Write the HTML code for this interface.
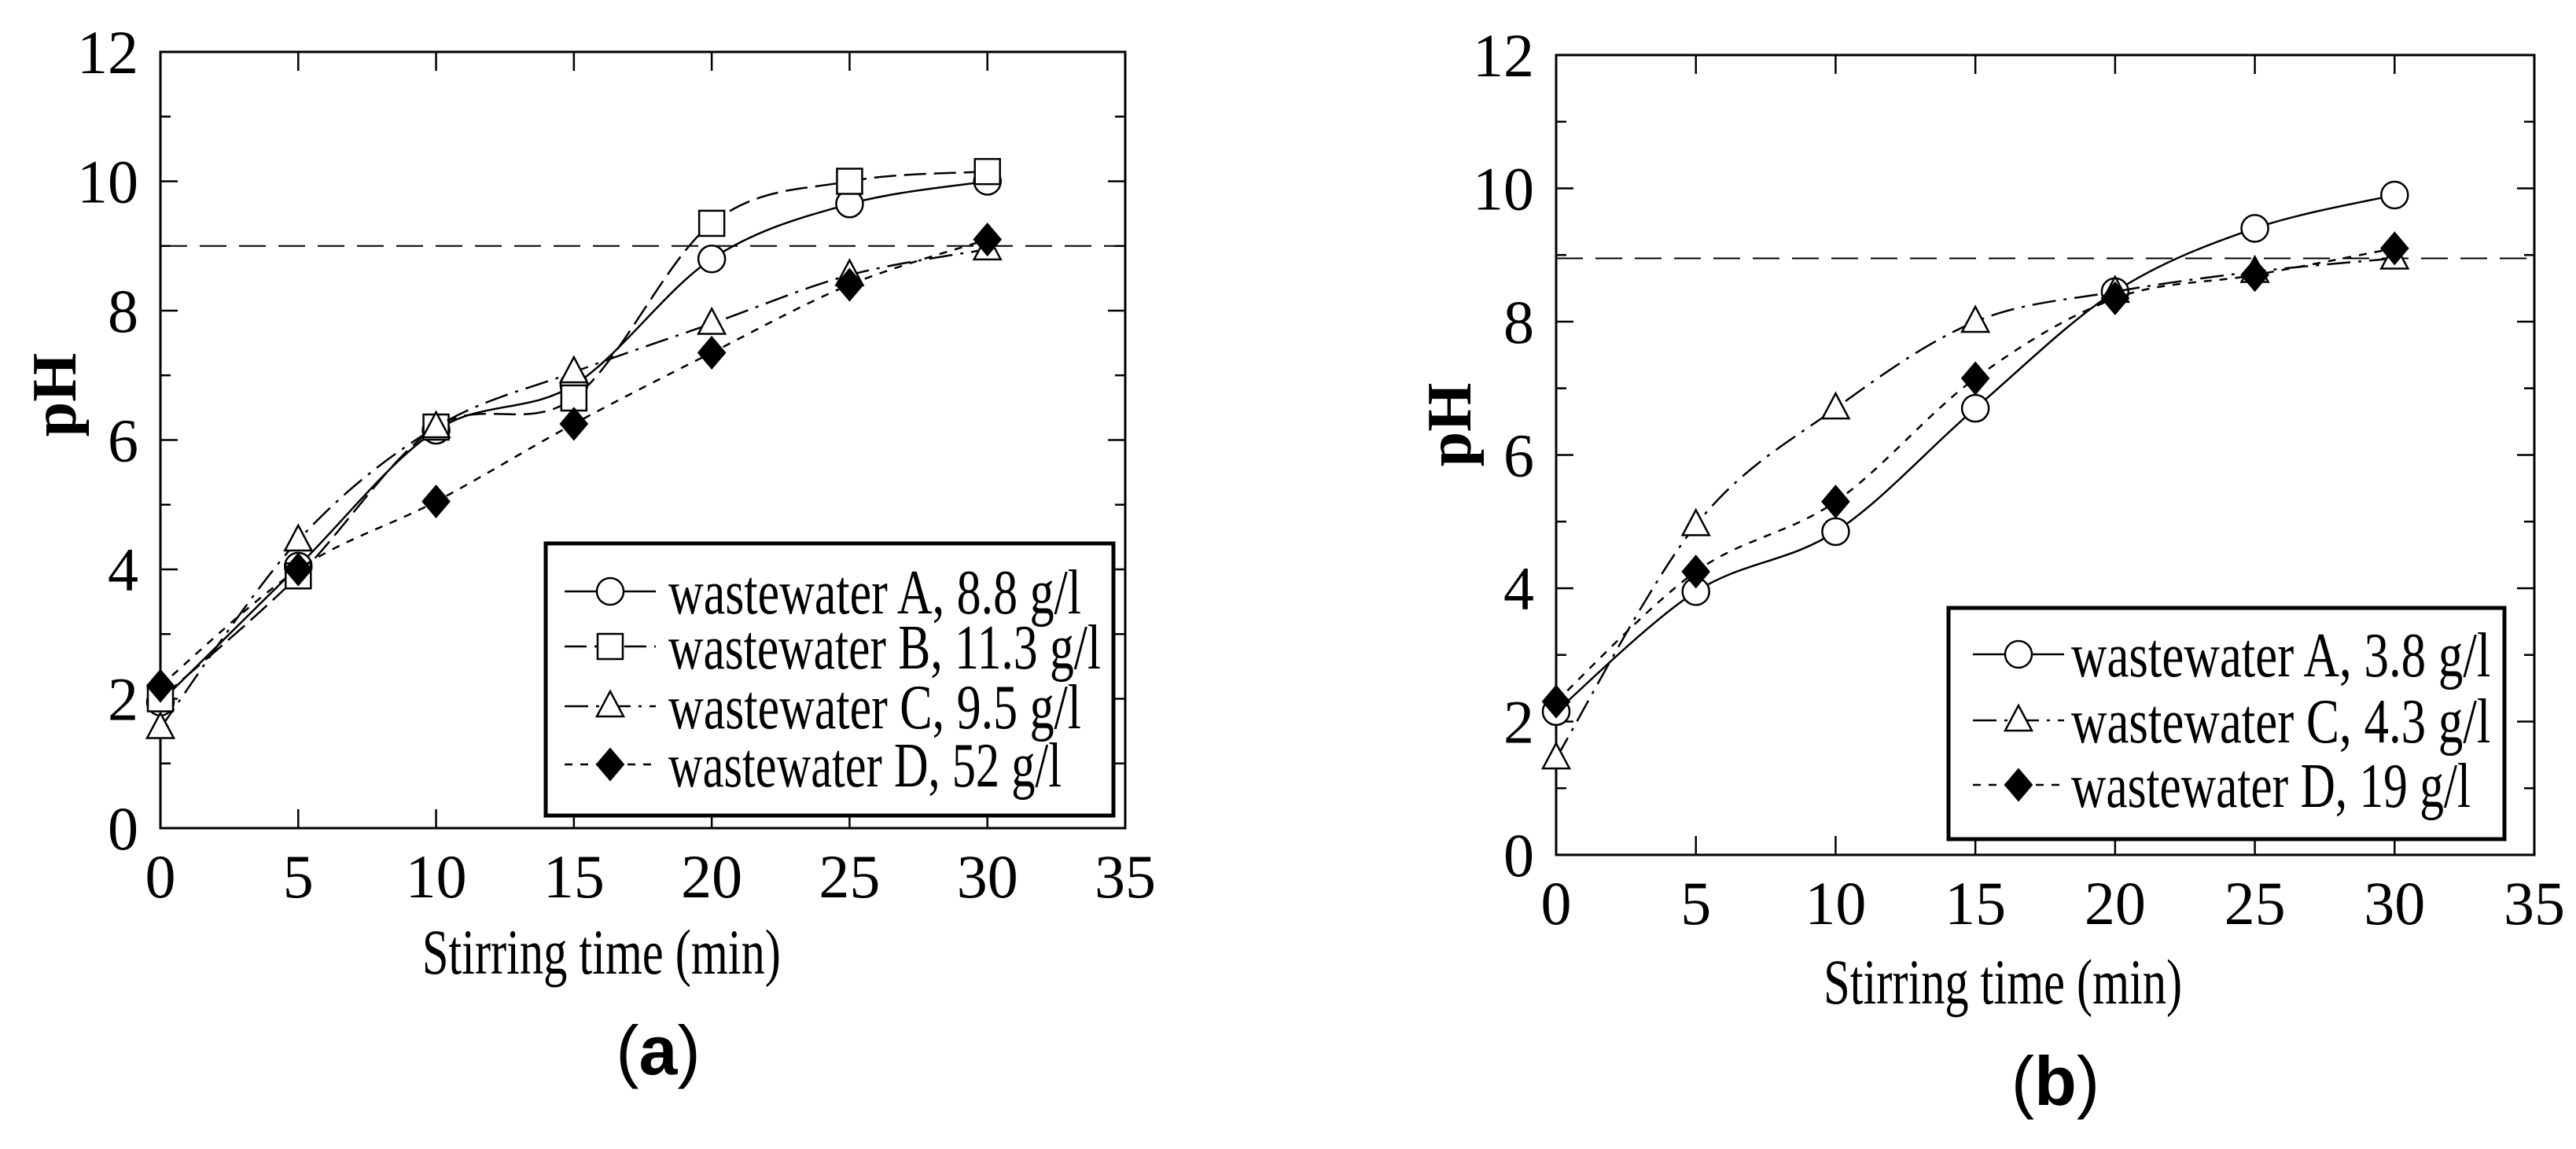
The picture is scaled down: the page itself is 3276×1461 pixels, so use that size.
<!DOCTYPE html>
<html><head><meta charset="utf-8"><style>
body{margin:0;background:#fff}
svg text{font-family:"Liberation Serif",serif;fill:#000}
</style></head><body>
<svg id="fig" width="3276" height="1456" viewBox="0 0 3276 1456" xmlns="http://www.w3.org/2000/svg"></svg>
<script>
const xTicks=[0,5,10,15,20,25,30,35];
const yTicks=[0,2,4,6,8,10,12];
const timesMin=[0,5,10,15,20,25,30];
const aSeriesA=[1.95,4.05,6.15,6.85,8.8,9.65,10.0];
const aSeriesB=[2.0,3.9,6.2,6.65,9.35,10.0,10.15];
const aSeriesC=[1.55,4.45,6.2,7.05,7.8,8.55,8.95];
const aSeriesD=[2.2,4.0,5.05,6.25,7.35,8.4,9.1];
const bSeriesA=[2.15,3.95,4.85,6.7,8.45,9.4,9.9];
const bSeriesC=[1.45,4.95,6.7,8.0,8.45,8.75,8.95];
const bSeriesD=[2.3,4.25,5.3,7.15,8.35,8.7,9.1];
const aLabels=["wastewater A, 8.8 g/l","wastewater B, 11.3 g/l","wastewater C, 9.5 g/l","wastewater D, 52 g/l"];
const bLabels=["wastewater A, 3.8 g/l","wastewater C, 4.3 g/l","wastewater D, 19 g/l"];
const threshA=9.0, threshB=8.95;

const NS="http://www.w3.org/2000/svg";
const svg=document.getElementById('fig');
function mk(tag,attrs,parent){const e=document.createElementNS(NS,tag);for(const k in attrs)e.setAttribute(k,attrs[k]);(parent||svg).appendChild(e);return e;}
const dashes={circle:"",square:"28,10",triangle:"30,10,4,10",diamond:"10,10"};

function smoothPath(pts){
  let d="M"+pts[0][0]+","+pts[0][1];
  for(let i=0;i<pts.length-1;i++){
    const p0=pts[Math.max(0,i-1)],p1=pts[i],p2=pts[i+1],p3=pts[Math.min(pts.length-1,i+2)];
    const c1=[p1[0]+(p2[0]-p0[0])/6,p1[1]+(p2[1]-p0[1])/6];
    const c2=[p2[0]-(p3[0]-p1[0])/6,p2[1]-(p3[1]-p1[1])/6];
    d+=" C"+c1[0]+","+c1[1]+" "+c2[0]+","+c2[1]+" "+p2[0]+","+p2[1];
  }
  return d;
}
function marker(g,type,cx,cy){
  let e;
  if(type==="circle")e=mk('circle',{cx:cx,cy:cy,r:17,fill:'#fff',stroke:'#000','stroke-width':2.5},g);
  else if(type==="square")e=mk('rect',{x:cx-16,y:cy-16,width:32,height:32,fill:'#fff',stroke:'#000','stroke-width':2.5},g);
  else if(type==="triangle")e=mk('polygon',{points:`${cx},${cy-19} ${cx-17},${cy+13} ${cx+17},${cy+13}`,fill:'#fff',stroke:'#000','stroke-width':2.5},g);
  else e=mk('polygon',{points:`${cx},${cy-20} ${cx+17},${cy} ${cx},${cy+20} ${cx-17},${cy}`,fill:'#000',stroke:'#000','stroke-width':2},g);
  return e;
}

function panel(cfg){
  const {L,R,T,B}=cfg;
  const sx=v=>L+(v-0)/35*(R-L);
  const sy=v=>B-(v-0)/12*(B-T);
  const g=mk('g',{});
  
  
  const frame=mk('rect',{x:L,y:T,width:R-L,height:B-T,fill:'none',stroke:'#000','stroke-width':3},g);
  
  
  for(let v=0;v<=12;v++){
    const y=sy(v),len=(v%2===0)?22:13;
    mk('line',{x1:L,y1:y,x2:L+len,y2:y,stroke:'#000','stroke-width':2.5},g);
    mk('line',{x1:R,y1:y,x2:R-len,y2:y,stroke:'#000','stroke-width':2.5},g);
  }
  yTicks.forEach(v=>{
    const t=mk('text',{x:L-28,y:sy(v)+27,'font-size':78,'text-anchor':'end'},g);
    t.textContent=v;
    
    
  });
  xTicks.forEach(v=>{
    const x=sx(v);
    mk('line',{x1:x,y1:B,x2:x,y2:B-24,stroke:'#000','stroke-width':2.5},g);
    mk('line',{x1:x,y1:T,x2:x,y2:T+24,stroke:'#000','stroke-width':2.5},g);
    const t=mk('text',{x:x,y:B+88,'font-size':78,'text-anchor':'middle'},g);
    t.textContent=v;
    
    
  });
  const xt=mk('text',{x:(L+sx(30))/2+35,y:cfg.xTitleY,'font-size':82,'text-anchor':'middle',textLength:456,lengthAdjust:'spacingAndGlyphs'},g);
  xt.textContent="Stirring time (min)";
  
  
  const yt=mk('text',{x:0,y:0,'font-size':80,'font-weight':'bold','text-anchor':'middle',transform:`translate(${cfg.yTitleX},${cfg.yTitleY}) rotate(-90)`},g);
  yt.textContent="pH";
  
  
  const th=mk('line',{x1:L,y1:sy(cfg.thresh),x2:R,y2:sy(cfg.thresh),stroke:'#000','stroke-width':2,'stroke-dasharray':'34,16'},g);
  
  
  cfg.series.forEach(s=>{
    const sg=mk('g',{},g);
    
    
    const pts=timesMin.map((t,i)=>[sx(t),sy(s.vals[i])]);
    mk('path',{d:smoothPath(pts),fill:'none',stroke:'#000','stroke-width':2.5,'stroke-dasharray':dashes[s.type]},sg);
    pts.forEach(p=>{const m=marker(sg,s.type,p[0],p[1]);
      
      });
  });
  const lg=mk('g',{},g);
  
  
  const Lg=cfg.legend;
  mk('rect',{x:Lg.x,y:Lg.y,width:Lg.w,height:Lg.h,fill:'#fff',stroke:'#000','stroke-width':5},lg);
  cfg.series.forEach((s,i)=>{
    const eg=mk('g',{},lg);
    
    
    const y=Lg.rows[i];
    mk('line',{x1:Lg.mx-58,y1:y,x2:Lg.mx+58,y2:y,stroke:'#000','stroke-width':2.5,'stroke-dasharray':dashes[s.type]},eg);
    marker(eg,s.type,Lg.mx,y);
    const t=mk('text',{x:Lg.tx,y:y+28,'font-size':80,textLength:cfg.labels[i].length*Lg.cw,lengthAdjust:'spacingAndGlyphs'},eg);
    t.textContent=cfg.labels[i];
  });
  const cap=mk('text',{x:cfg.capX,y:cfg.capY,'font-size':88,'text-anchor':'middle',style:'font-family:"Liberation Sans",sans-serif'},g);
  cap.innerHTML='(<tspan font-weight="bold">'+cfg.cap+'</tspan>)';
  
  
}

panel({name:'panel-a',L:204,R:1431,T:66,B:1053,thresh:threshA,xTitleY:1238,yTitleX:96,yTitleY:502,
  series:[{name:'series-a-wastewater-a',type:'circle',vals:aSeriesA},{name:'series-a-wastewater-b',type:'square',vals:aSeriesB},
          {name:'series-a-wastewater-c',type:'triangle',vals:aSeriesC},{name:'series-a-wastewater-d',type:'diamond',vals:aSeriesD}],
  labels:aLabels,legend:{x:694,y:691,w:722,h:346,rows:[752,822,898,972],mx:776,tx:850,cw:25},
  cap:'a',capX:837,capY:1366});
panel({name:'panel-b',L:1979,R:3223,T:70,B:1087,thresh:threshB,xTitleY:1276,yTitleX:1870,yTitleY:540,
  series:[{name:'series-b-wastewater-a',type:'circle',vals:bSeriesA},{name:'series-b-wastewater-c',type:'triangle',vals:bSeriesC},
          {name:'series-b-wastewater-d',type:'diamond',vals:bSeriesD}],
  labels:bLabels,legend:{x:2478,y:773,w:707,h:294,rows:[832,916,998],mx:2567,tx:2634,cw:25.4},
  cap:'b',capX:2614,capY:1405});
</script>
</body></html>
